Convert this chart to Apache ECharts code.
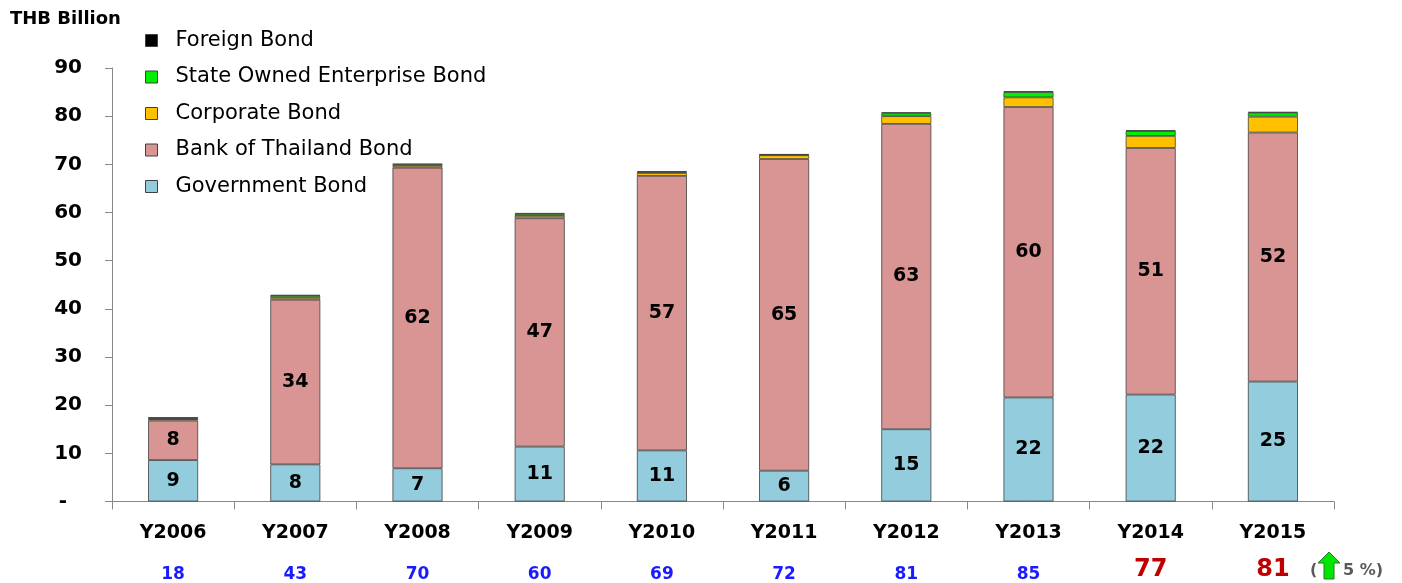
<!DOCTYPE html>
<html><head><meta charset="utf-8">
<script src="https://cdn.jsdelivr.net/npm/echarts@6/dist/echarts.min.js"></script>
<style>html,body{margin:0;padding:0;background:#fff}#c{width:1402px;height:583px}</style>
</head><body><div id="c"></div>
<script>
const categories = ['Y2006','Y2007','Y2008','Y2009','Y2010','Y2011','Y2012','Y2013','Y2014','Y2015'];
const governmentBond = [8.6, 7.7, 6.9, 11.4, 10.6, 6.4, 15.0, 21.6, 22.2, 24.9];
const bankOfThailandBond = [8.2, 34.2, 62.4, 47.4, 57.0, 64.7, 63.4, 60.3, 51.2, 51.7];
const corporateBond = [0.3, 0.4, 0.4, 0.5, 0.6, 0.8, 1.6, 2.0, 2.5, 3.3];
const soeBond = [0.1, 0.4, 0.3, 0.4, 0.2, 0.1, 0.6, 1.1, 1.0, 0.8];
const foreignBond = [0.3, 0.2, 0.1, 0.2, 0.2, 0.1, 0.2, 0.2, 0.2, 0.2];
const totals = [18, 43, 70, 60, 69, 72, 81, 85, 77, 81];
const yTicks = [0, 10, 20, 30, 40, 50, 60, 70, 80, 90];
const growthNote = '5 %)';

const FONT = 'DejaVu Sans';
const chart = echarts.init(document.getElementById('c'));
const border = {borderColor: '#404040', borderWidth: 0.8};
function mk(name, data, color, label) {
  return {
    name, type: 'bar', stack: 'total', data, barWidth: 50,
    itemStyle: Object.assign({color}, border),
    label: label ? {show: true, position: 'inside', color: '#000', fontFamily: FONT, fontWeight: 'bold', fontSize: 19,
      formatter: p => Math.round(p.value)} : {show: false},
    emphasis: {disabled: true}
  };
}
chart.setOption({
  animation: false,
  textStyle: {fontFamily: FONT},
  grid: {left: 112, right: 68, top: 68, bottom: 81, containLabel: false},
  legend: {
    orient: 'vertical', left: 140, top: 25, itemGap: 15.5, itemWidth: 12, itemHeight: 12,
    icon: 'rect',
    data: ['Foreign Bond','State Owned Enterprise Bond','Corporate Bond','Bank of Thailand Bond','Government Bond'],
    textStyle: {fontFamily: FONT, fontSize: 21, color: '#000', padding: [0,0,0,13]},
    itemStyle: {borderColor: '#404040', borderWidth: 1}
  },
  graphic: [
    {type: 'text', left: 10, top: 10, style: {text: 'THB Billion', font: 'bold 18px "DejaVu Sans"', fill: '#000'}},
    {type: 'text', left: 1310, top: 563, style: {text: '(', font: 'bold 16px "DejaVu Sans"', fill: '#595959'}},
    {type: 'polygon', shape: {points: [[1329,552],[1340,563],[1334,563],[1334,579],[1324,579],[1324,563],[1318,563]]},
      style: {fill: '#00E600', stroke: '#2a7a2a', lineWidth: 1}},
    {type: 'text', left: 1343, top: 563, style: {text: growthNote, font: 'bold 16px "DejaVu Sans"', fill: '#595959'}}
  ],
  xAxis: {
    type: 'category', data: categories,
    axisLine: {lineStyle: {color: '#888', width: 1}},
    axisTick: {show: true, length: 8, lineStyle: {color: '#888'}},
    axisLabel: {
      margin: 21, interval: 0,
      formatter: (v, i) => '{y|' + v + '}\n{' + (i >= 8 ? 'r' : 'b') + '|' + totals[i] + '}',
      rich: {
        y: {fontFamily: FONT, fontWeight: 'bold', fontSize: 19, color: '#000', height: 22},
        b: {fontFamily: FONT, fontWeight: 'bold', fontSize: 17, color: '#1a1aff', height: 18, padding: [21,0,0,0]},
        r: {fontFamily: FONT, fontWeight: 'bold', fontSize: 24, color: '#c00000', height: 18, padding: [16,0,0,0]}
      }
    }
  },
  yAxis: {
    type: 'value', min: 0, max: 90, interval: 10,
    splitLine: {show: false},
    axisLine: {show: true, lineStyle: {color: '#888'}},
    axisTick: {show: true, inside: false, length: 7, lineStyle: {color: '#888'}},
    axisLabel: {margin: 30, fontFamily: FONT, fontWeight: 'bold', fontSize: 20, color: '#000',
      formatter: v => (yTicks.indexOf(v) === 0 ? '{d|-}' : String(v)),
      rich: {d: {fontFamily: FONT, fontWeight: 'bold', fontSize: 20, color: '#000', padding: [0,15,0,0]}}}
  },
  series: [
    mk('Government Bond', governmentBond, '#93CDDD', true),
    mk('Bank of Thailand Bond', bankOfThailandBond, '#D99594', true),
    mk('Corporate Bond', corporateBond, '#FFC000', false),
    mk('State Owned Enterprise Bond', soeBond, '#00EE00', false),
    mk('Foreign Bond', foreignBond, '#000000', false)
  ]
});
</script></body></html>
